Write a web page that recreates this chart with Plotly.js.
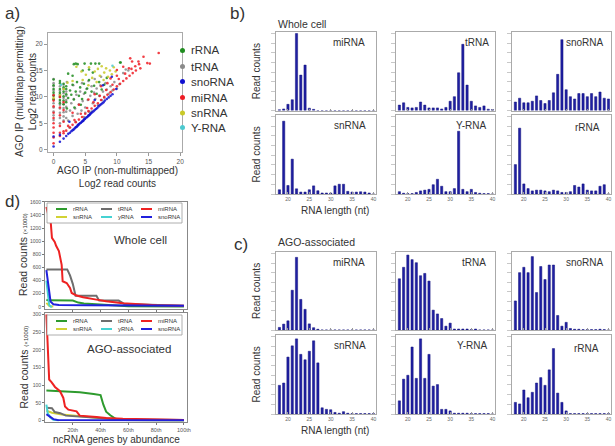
<!DOCTYPE html>
<html><head><meta charset="utf-8">
<script src="https://cdn.plot.ly/plotly-3.0.1.min.js"></script>
<style>html,body{margin:0;padding:0;background:#fff}#chart{width:615px;height:446px}</style>
</head><body><div id="chart"></div>
<script>
// ---------- Panel a: scatter (log2 read counts) ----------
const scatterCategories = ['rRNA','tRNA','snoRNA','miRNA','snRNA','Y-RNA'];
const rRNA_x = [3.2,3.5,3.8,4.9,5.9,6.6,7.2,10.5,10.6, 2.3,3,4.6,5.6,6.2, 0,0,0,0,0,0, 1,1,1,1,1,1,1, 1.58,1.58,1.58,1.58,1.58,1.58, 2,2,2,2, 2.3,2.6,2.8,3,3.2,3.5,3.7,4,4.2,4.5,4.8,5,5.3,5.6,6,6.4,6.8,7.2,7.6,8,8.4, 3.3,2.1,4.3];
const rRNA_y = [16.2,16.3,16.2,16.3,16.3,16.3,16.3,16.5,16.5, 14.4,14,15,15.2,14.6, 9.5,10.2,10.8,11.5,12.2,13.3, 8.8,9.4,10,10.8,11.5,12.6,13, 8.6,9.3,10.1,11,11.8,12.5, 9,10.5,11.5,12, 9.8,11.2,10.4,12.3,9.5,11,12.8,10.2,11.8,9.6,12.5,10.8,11.6,13.2,11,12.1,10.6,12.8,11.4,12.3,13.6, 8,7.8,8.5];
const tRNA_x = [0,0,0,0,0,0,0,0,0,0,0, 1,1,1,1,1,1,1,1,1, 1.58,1.58,1.58,1.58,1.58,1.58,1.58,1.58,1.58, 2,2,2,2,2,2, 2.3,2.6,2.8,3,3.2,3.4,3.6,3.8,4,4.2,4.4,4.6,4.8,5,5.2,5.4,5.6,5.8,6,6.2,6.4,6.6,6.8,7,7.2,7.4,7.6,7.8,8,8.2,8.4,8.7,9,9.3,9.6,10,10.4,11,11.4,11.8, 3.1,4.5,5.5,6.5,7.5, 2.5,3.5,4.8,6, 2.1,5];
const tRNA_y = [5.6,6.5,7.2,8,8.8,9.6,10.4,11.2,12,12.6,13.4, 5,6,7,7.8,8.5,9.1,10.5,11.2,12, 5.5,6.3,7.1,7.9,8.6,9.8,10.7,11.5,12.3, 6,7.2,8.1,9.4,10.2,11, 5.5,7.4,8.8,6.4,9.6,7.8,10.4,6.8,8.6,11,7.4,9.2,10.6,8,11.5,9.4,7.2,10.2,12,8.8,10.8,9.6,11.6,8.4,10.2,12.2,9.4,11,10,12.6,11.4,10.6,12,11.2,12.8,11.6,12.4,14.5,15.2,15, 12.2,12.6,13,13.4,13.8, 4.2,5.3,6.2,7.2, 12.8,7];
const snoRNA_x = [0,1,1.58,2,2.32,2.58,2.81,3,3.17,3.32,3.46,3.58,3.7,3.81,3.91,4,4.17,4.32,4.46,4.58,4.7,4.81,4.91,5,5.17,5.32,5.46,5.58,5.7,5.81,5.91,6.1,6.3,6.5,6.7,6.9,7.1,7.3,7.5,7.7,7.9,8.1,8.4,8.7,9,9.3, 7.8,9.2,9.9,6.5,2.5,1,0];
const snoRNA_y = [0.6,1.5,2.1,2.6,3,3.2,3.5,3.7,3.8,4,4.2,4.3,4.4,4.6,4.7,4.8,5,5.1,5.3,5.4,5.5,5.7,5.8,5.9,6.1,6.2,6.4,6.5,6.6,6.8,6.9,7.1,7.3,7.5,7.7,7.9,8.2,8.4,8.6,8.8,9,9.3,9.6,9.9,10.2,10.5, 12.2,13.8,11.5,9.4,5.3,2.8,2.5];
const miRNA_x = [1,1.58,2,2.6,3,3.5,4,4.5,5,5.5,6,6.5,7,7.5,8,8.5,9,9.5,10,10.5,11,11.5,12,12.5,13, 2.3,3.3,4.3,5.3,6.3,7.3,8.3,9.3,10.3,11.3,12.3,13.5, 0,0,0,0,0,0,0,0,0,0, 1,1,1,1,1, 1.58,1.58,1.58,1.58, 3,4,5.5,6.5,7.5,8.5,9,10, 10,11.9,12.1,12.4,12.9,13.4,13.7,14.2,14.8,16.6,15.2,11];
const miRNA_y = [2.6,3.1,3.6,4.2,4.7,5.2,5.7,6.2,6.8,7.3,7.8,8.3,8.8,9.4,9.9,10.4,10.9,11.4,12,12.5,13,13.5,14,14.5,15, 4.5,5.6,6.8,7.9,9,10.2,11.3,12.3,13.4,14.4,15.3,16.2, 1.2,2.3,3.2,4.2,5,6,7,8.2,9.3,10.3, 3.2,4.5,6.5,8,10, 3.5,5.3,7.5,9, 7,8.5,9.5,10.5,12,12.6,13.5,14, 15.1,15.4,17.3,16.7,15.8,16.7,15.4,17.6,16.4,18.3,16.3,15.7];
const snRNA_x = [3.6,4.4,5.1,5.6,6.1,6.5,7,7.3,7.6,8,8.3,8.6,8.9,9.2,9.5,6.8,5.5,4.6,3,2.2,1.6,1,0,7.9,9.8];
const snRNA_y = [15.7,14.8,14.2,15.6,13.6,14.8,15.3,14,15.8,14.6,15.4,13.8,15,14.3,15.6,12.8,12.2,13.2,13,12.7,11.5,10.3,9.8,13.2,14.8];
const YRNA_x = [9.3,1.2];
const YRNA_y = [15.9,12.3];
const scatterTicks = [0,5,10,15,20];

// ---------- Panels b & c: read-length histograms (relative read counts) ----------
const lengths = [18,19,20,21,22,23,24,25,26,27,28,29,30,31,32,33,34,35,36,37,38,39,40];
const lengthTicks = [20,25,30,35,40];
const histNames = ['miRNA','tRNA','snoRNA','snRNA','Y-RNA','rRNA'];
const wc_miRNA  = [1,2,8,14,100,46,59,3,1.5,0,0,0,0,0,0,0,0,0,0,0,0,0,0];
const wc_tRNA   = [7,10,4,3.4,4,11,7,3.4,3.4,3.4,2,4,12,18,49,86,33,12,6,4,6,1.7,1.3];
const wc_snoRNA = [11,16,10,10,12,19,13,9,13,23,47,92,27,18,15,22,22,18,22,18,24,16,15];
const wc_snRNA  = [5.5,94,11,45,6.7,2.5,2.5,5.5,10.5,4.2,1.3,1.3,1.3,10.5,12.6,12.6,3.4,2.5,2.5,2.9,2.5,1.3,0];
const wc_YRNA   = [3,1,0.5,0.5,2,4,5,6,12,19,10,3,3,7,81,6,3,6,2,1,0.5,0.5,0];
const wc_rRNA   = [38,85,13,7,4,5,5,4,3,5,4,2,2,3,11,9,13,5,4,4,10,12,0];
const ago_miRNA  = [3.4,7.7,12,52,95,40,27,8,3,1,0,0,0,0,0,0,0,0,0,0,0,0,0];
const ago_tRNA   = [67,82,98,92,88,71,74,64,26,21,15,5,9,1.3,1.3,1.3,1.3,0.5,1.3,0,0,0,0];
const ago_snoRNA = [38,75,82,75,96,49,83,66,85,85,19,5,10,2,1,1,0.5,0.5,0.5,0.5,1,0.5,0];
const ago_snRNA  = [37,40,73.5,88,97,77,70,81,94.5,66,8,6,5.5,2,1,3,1,0.5,0.5,0.5,0.5,0.5,0.5];
const ago_YRNA   = [17,45,50,86.5,46,97,46,77,36,38,6,6,4,1,1,1,1,0.5,0.5,0.5,0.5,0.5,0];
const ago_rRNA   = [15,13,31,21,28,40,47,37,57,84.5,27,15,4,0.5,0.5,0.5,0.5,0.5,0.5,0.5,0.5,0.5,0.5];

// ---------- Panel d: read counts (x1000) by gene rank ----------
const dCategories = ['rRNA','tRNA','miRNA','snRNA','yRNA','snoRNA'];
const rankTickVals = [20,40,60,80,100];
const rankTickText = ['20th','40th','60th','80th','100th'];
const wc_rRNA_rank = [1,2,20,24,28,40,50,60,100];
const wc_rRNA_cnt  = [110,100,95,65,50,35,20,10,5];
const wc_tRNA_rank = [1,16,18,20,22,37,39,53,57,75,100];
const wc_tRNA_cnt  = [570,570,480,350,170,170,95,95,45,35,15];
const wc_miRNA_rank = [1,2,3,4,5,7,8,10,11,12,12.7,15.6,18,19.2,22.7,27.4,37,44,56,68,80,100];
const wc_miRNA_cnt  = [1520,1400,1345,1320,1050,990,930,850,760,640,390,363,287,212,172,146,110,85,55,35,25,15];
const wc_snRNA_rank = [1,2,3,4,6];
const wc_snRNA_cnt  = [60,30,15,8,4];
const wc_yRNA_rank = [1,2,3,4,5];
const wc_yRNA_cnt  = [400,150,30,5,2];
const wc_snoRNA_rank = [1,2,3,4,6,10,30,60,100];
const wc_snoRNA_cnt  = [560,400,200,80,40,30,25,20,15];
const ago_rRNA_rank = [1,10,25,35,40,42,44,47,50,53,100];
const ago_rRNA_cnt  = [85,83,80,75,72,45,25,15,7,2,1];
const ago_tRNA_rank = [1,5,7,11,15,30,45,52,100];
const ago_tRNA_cnt  = [36,35,24,21,14,10,7,4,2];
const ago_miRNA_rank = [1,3,4.8,7.2,10.8,13.2,14.4,16.8,22.7,25,37,44,56,100];
const ago_miRNA_cnt  = [300,116,108,95,83,64,40,31,26,14,10,7,5,2];
const ago_snRNA_rank = [1,5,12,20,30,40,50,55,100];
const ago_snRNA_cnt  = [28,22,17,14,11,8,4,2,1];
const ago_yRNA_rank = [1,2,3,4,6,10];
const ago_yRNA_cnt  = [45,20,15,8,2,1];
const ago_snoRNA_rank = [1,2,4,6,9,100];
const ago_snoRNA_cnt  = [18,16,10,4,2,1];

// ---------- build ----------
const W=615,H=446;
const PX=x=>x/W, PY=y=>1-y/H;
const FONT='"Liberation Sans", Arial, sans-serif';
const traces=[];
const layout={width:W,height:H,margin:{l:0,r:0,t:0,b:0},paper_bgcolor:'#fff',plot_bgcolor:'#fff',
  showlegend:false,font:{family:FONT,color:'#333'},annotations:[],shapes:[]};
function axes(n,xr,yr,xrange,yrange,xo,yo){
  const xs=n===1?'':String(n);
  layout['xaxis'+xs]=Object.assign({domain:[PX(xr[0]),PX(xr[1])],range:xrange,anchor:'y'+xs,showgrid:false,zeroline:false,
    showline:true,mirror:true,linecolor:'#aaa',linewidth:1,fixedrange:true},xo);
  layout['yaxis'+xs]=Object.assign({domain:[PY(yr[1]),PY(yr[0])],range:yrange,anchor:'x'+xs,showgrid:false,zeroline:false,
    showline:true,mirror:true,linecolor:'#aaa',linewidth:1,fixedrange:true},yo);
  return {xaxis:'x'+xs,yaxis:'y'+xs};
}
function ann(text,x,y,size,o){
  layout.annotations.push(Object.assign({text:text,x:PX(x),y:PY(y),xref:'paper',yref:'paper',showarrow:false,
    xanchor:'center',yanchor:'middle',font:{size:size,color:'#333',family:FONT}},o||{}));
}

// Panel a
const scatterColors={'rRNA':'#1f8c1f','tRNA':'#8a8a8a','snoRNA':'#1010d0','miRNA':'#ee1c24','snRNA':'#c9c928','Y-RNA':'#4cc9cf'};
const scatterData={'rRNA':[rRNA_x,rRNA_y],'tRNA':[tRNA_x,tRNA_y],'snoRNA':[snoRNA_x,snoRNA_y],'miRNA':[miRNA_x,miRNA_y],'snRNA':[snRNA_x,snRNA_y],'Y-RNA':[YRNA_x,YRNA_y]};
const axA=axes(1,[48,182],[33,152],[-0.88,20.28],[-0.44,22.1],
  {tickvals:scatterTicks,ticks:'outside',ticklen:3,tickcolor:'#999',tickfont:{size:6.5,color:'#555'}},
  {tickvals:scatterTicks,ticks:'outside',ticklen:3,tickcolor:'#999',tickfont:{size:6.5,color:'#555'}});
['tRNA','rRNA','snRNA','Y-RNA','miRNA','snoRNA'].forEach(c=>{
  traces.push(Object.assign({type:'scatter',mode:'markers',x:scatterData[c][0],y:scatterData[c][1],name:c,
    marker:{size:2.6,color:scatterColors[c],opacity:0.85},cliponaxis:true},axA));
});
const legY=[50.5,66.5,81.5,97.5,113,127.5];
scatterCategories.forEach((c,i)=>{
  layout.shapes.push({type:'circle',xref:'paper',yref:'paper',x0:PX(180),x1:PX(185),y0:PY(legY[i]+2.5),y1:PY(legY[i]-2.5),
    fillcolor:scatterColors[c],line:{width:0}});
  ann(c,189,legY[i],11.5,{xanchor:'left'});
});
ann('AGO IP (multimap permitting)<br>Log2 read counts',26,92,10,{textangle:-90});
ann('AGO IP (non-multimapped)<br>Log2 read counts',117,177,10);
ann('a)',12,14,17);

// Panels b and c
const cols=[[276,376],[396,495],[512,611]];
const histSets=[
  {rows:[[32,110.5],[115,194]],data:[wc_miRNA,wc_tRNA,wc_snoRNA,wc_snRNA,wc_YRNA,wc_rRNA],
   labelPos:[[367,43],[491,43],[606,43],[368,125],[489,125],[602,128]]},
  {rows:[[252,330],[335,414]],data:[ago_miRNA,ago_tRNA,ago_snoRNA,ago_snRNA,ago_YRNA,ago_rRNA],
   labelPos:[[367,262],[488,262],[606,262],[368,345],[490,345],[601,348]]}
];
let n=2;
histSets.forEach((set,si)=>{
  set.data.forEach((vals,k)=>{
    const r=Math.floor(k/3), c=k%3;
    const ax=axes(n,cols[c],set.rows[r],[17.2,40.6],[0,102],
      {tickvals:lengthTicks,ticks:'inside',ticklen:2,tickcolor:'#999',showticklabels:r===1,tickfont:{size:5,color:'#666'}},
      {dtick:12.5,tick0:0,ticks:'outside',ticklen:4,tickcolor:'#c8c8c8',showticklabels:false});
    traces.push(Object.assign({type:'bar',x:lengths,y:vals,width:0.52,name:histNames[k],
      marker:{color:'#1f1fa3',line:{color:'#10107a',width:0.5}}},ax));
    ann(histNames[k],set.labelPos[k][0],set.labelPos[k][1],10,{xanchor:'right'});
    n++;
  });
  const rr=set.rows;
  ann('Read counts',256,(rr[0][0]+rr[0][1])/2,10,{textangle:-90});
  ann('Read counts',256,(rr[1][0]+rr[1][1])/2,10,{textangle:-90});
  ann('RNA length (nt)',335,rr[1][1]+16,10);
});
ann('Whole cell',276,24,10.5,{xanchor:'left'});
ann('AGO-associated',276,242,10.5,{xanchor:'left'});
ann('b)',238,14,17);
ann('c)',241,244,17);

// Panel d
const dColors={'rRNA':'#2e9b2e','tRNA':'#6e6e6e','miRNA':'#ee2222','snRNA':'#d2d234','yRNA':'#45d2d2','snoRNA':'#2020dd'};
const dSets=[
  {box:[201.5,308.5],yr:[-25,1605],dtick:200,showX:false,title:'Whole cell',titlePos:[140,240],
   data:{'rRNA':[wc_rRNA_rank,wc_rRNA_cnt],'tRNA':[wc_tRNA_rank,wc_tRNA_cnt],'miRNA':[wc_miRNA_rank,wc_miRNA_cnt],
         'snRNA':[wc_snRNA_rank,wc_snRNA_cnt],'yRNA':[wc_yRNA_rank,wc_yRNA_cnt],'snoRNA':[wc_snoRNA_rank,wc_snoRNA_cnt]},legTop:203},
  {box:[313,422],yr:[-4,304],dtick:50,showX:true,title:'AGO-associated',titlePos:[129,349],
   data:{'rRNA':[ago_rRNA_rank,ago_rRNA_cnt],'tRNA':[ago_tRNA_rank,ago_tRNA_cnt],'miRNA':[ago_miRNA_rank,ago_miRNA_cnt],
         'snRNA':[ago_snRNA_rank,ago_snRNA_cnt],'yRNA':[ago_yRNA_rank,ago_yRNA_cnt],'snoRNA':[ago_snoRNA_rank,ago_snoRNA_cnt]},legTop:315}
];
dSets.forEach(set=>{
  const ax=axes(n,[45,187],set.box,[0,102.2],set.yr,
    {tickvals:rankTickVals,ticktext:rankTickText,ticks:'outside',ticklen:2,tickcolor:'#777',showticklabels:set.showX,tickfont:{size:5.5,color:'#555'},linecolor:'#888'},
    {dtick:set.dtick,tick0:0,ticks:'outside',ticklen:2,tickcolor:'#777',tickfont:{size:5,color:'#555'},linecolor:'#888'});
  n++;
  ['rRNA','snRNA','tRNA','yRNA','miRNA','snoRNA'].forEach(c=>{
    traces.push(Object.assign({type:'scatter',mode:'lines',x:set.data[c][0],y:set.data[c][1],name:c,
      line:{color:dColors[c],width:2}},ax));
  });
  const t=set.legTop;
  layout.shapes.push({type:'rect',xref:'paper',yref:'paper',x0:PX(47),x1:PX(182),y0:PY(t+20),y1:PY(t),
    fillcolor:'#fff',line:{color:'#999',width:0.8},layer:'above'});
  const lx=[[56,67,71],[101,112,116],[141,152,156]];
  dCategories.forEach((c,i)=>{
    const r=Math.floor(i/3), k=i%3, yy=t+6+r*8;
    layout.shapes.push({type:'line',xref:'paper',yref:'paper',x0:PX(lx[k][0]),x1:PX(lx[k][1]),y0:PY(yy),y1:PY(yy),
      line:{color:dColors[c],width:2},layer:'above'});
    ann(c,lx[k][2],yy,6,{xanchor:'left'});
  });
  ann(set.title,set.titlePos[0],set.titlePos[1],11.5);
  const mid=(set.box[0]+set.box[1])/2;
  ann('Read counts <span style="font-size:6px">(×1000)</span>',23,mid,10.5,{textangle:-90});
});
ann('ncRNA genes by abundance',116,439,10);
ann('d)',12,201,17);

Plotly.newPlot('chart',traces,layout,{displayModeBar:false,staticPlot:true});
</script></body></html>
